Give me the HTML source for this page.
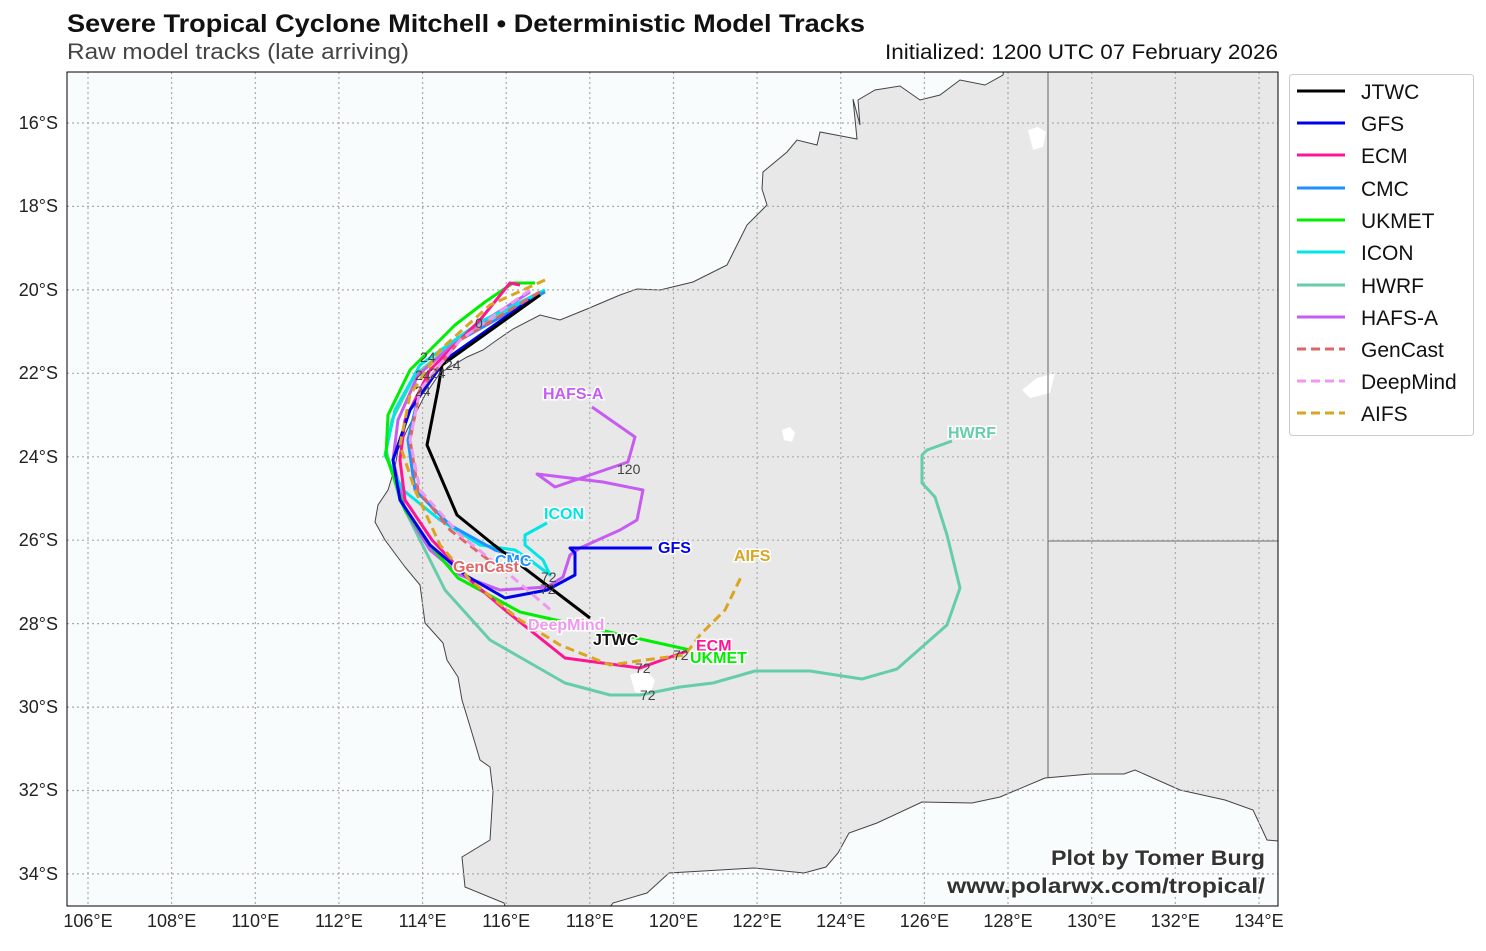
<!DOCTYPE html>
<html><head><meta charset="utf-8"><style>
body{margin:0;background:#fff;width:1486px;height:946px;overflow:hidden;font-family:"Liberation Sans",sans-serif}
</style></head><body>
<svg width="1486" height="946" xmlns="http://www.w3.org/2000/svg" font-family="Liberation Sans, sans-serif">
<text x="67" y="32" font-size="25" font-weight="bold" fill="#111" textLength="798" lengthAdjust="spacingAndGlyphs">Severe Tropical Cyclone Mitchell • Deterministic Model Tracks</text>
<text x="67" y="59" font-size="22" fill="#444" textLength="342" lengthAdjust="spacingAndGlyphs">Raw model tracks (late arriving)</text>
<text x="885" y="59" font-size="21" fill="#111" textLength="393" lengthAdjust="spacingAndGlyphs">Initialized: 1200 UTC 07 February 2026</text>
<defs><clipPath id="c"><rect x="67" y="72" width="1211" height="834"/></clipPath></defs>
<rect x="67" y="72" width="1211" height="834" fill="#f8fcfd"/>
<g clip-path="url(#c)">
<path d="M1005,60 L1003,75 L985,85 L960,80 L940,95 L920,100 L900,86 L875,90 L858,100 L860,125 L853,99 L857,139 L820,132 L817,145 L797,140 L787,152 L763,172 L762,189 L767,205 L747,225 L740,239 L727,265 L693,282 L660,290 L637,289 L620,295 L587,309 L560,320 L540,315 L513,329 L497,340 L483,350 L467,357 L440,373 L425,395 L407,430 L398,450 L395,467 L388,490 L378,505 L375,522 L385,540 L405,567 L420,585 L422,600 L425,623 L443,643 L447,660 L458,677 L462,700 L472,733 L480,760 L490,767 L493,792 L490,840 L462,857 L465,887 L504,903 L510,920 L600,920 L613,903 L647,893 L669,873 L754,868 L804,873 L826,867 L838,853 L849,833 L877,823 L922,802 L972,803 L1000,797 L1045,778 L1090,774 L1124,774 L1135,770 L1180,790 L1225,800 L1253,810 L1261,827 L1267,840 L1290,842 L1290,60 Z" fill="#e8e8e8" stroke="#444" stroke-width="1"/>
<path d="M1028,130 l10,-3 l8,5 l-3,15 l-10,3 z M1022,390 l15,-12 l18,-5 l-5,20 l-20,5 z M782,430 l8,-3 l5,6 l-3,9 l-8,-2 z M630,675 l15,-5 l10,10 l-5,15 l-15,-3 z" fill="#fff"/>
<path d="M1048,72 V778 M1048,541 H1278" stroke="#444" stroke-width="0.8" fill="none"/>
<g stroke="#aaa" stroke-width="1.2" stroke-dasharray="2,3" fill="none">
<path d="M88,72V906M171.6,72V906M255.3,72V906M338.9,72V906M422.6,72V906M506.2,72V906M589.8,72V906M673.5,72V906M757.1,72V906M840.8,72V906M924.4,72V906M1008,72V906M1091.7,72V906M1175.3,72V906M1259,72V906"/>
<path d="M67,123H1278M67,206.4H1278M67,289.9H1278M67,373.3H1278M67,456.8H1278M67,540.2H1278M67,623.6H1278M67,707.1H1278M67,790.5H1278M67,873.9H1278"/>
</g>
<g fill="none" stroke-width="3" stroke-linejoin="round">
<polyline stroke="#66cdaa" points="540,292 470,330 415,375 392,420 386,450 400,500 445,590 490,640 565,683 610,695 640,695 680,687 713,683 755,671 810,671 862,679 897,669 947,625 960,588 947,535 935,497 922,483 922,455 927,450 952,441"/>
<polyline stroke="#c65cf2" points="530,292 470,330 418,375 398,420 393,460 405,510 430,550 460,575 500,590 547,587 563,577 570,555 580,548 620,530 637,520 643,490 603,482 537,474 555,487 628,462 635,437 592,407"/>
<polyline stroke="#00e5e5" points="545,290 480,322 420,365 395,410 385,455 403,490 440,520 480,545 515,550 530,560 550,575 543,560 525,545 525,535 547,523"/>
<polyline stroke="#1e90ff" points="545,292 460,340 420,390 408,440 415,490 450,525 495,550 530,560"/>
<polyline stroke="#00ee00" points="535,283 513,283 485,302 455,325 410,370 388,415 386,455 405,510 430,545 458,578 520,612 600,630 690,650"/>
<polyline stroke="#ff1493" points="520,285 510,283 480,320 430,370 405,420 400,460 405,500 432,540 470,580 505,610 565,658 640,668 690,650"/>
<polyline stroke="#0000ee" points="530,300 445,360 410,410 393,460 400,500 430,545 465,575 505,598 547,590 575,575 575,553 570,548 652,548"/>
<polyline stroke="#000" points="540,295 442,365 438,389 427,445 457,515 494,545 590,618"/>
<polyline stroke="#e06666" stroke-dasharray="9,5" points="540,292 460,340 420,390 410,440 418,490 450,530 495,565"/>
<polyline stroke="#ee99ee" stroke-dasharray="9,5" points="530,290 460,340 420,390 410,440 420,490 460,535 510,575 553,612"/>
<polyline stroke="#daa520" stroke-dasharray="9,5" points="545,280 490,305 440,350 410,395 400,445 415,490 440,545 470,580 520,620 560,645 610,665 645,660 685,655 700,635 725,610 742,575"/>
</g>
<g font-size="14" fill="#444">
<text x="475" y="328">0</text><text x="420" y="362">24</text><text x="445" y="370">24</text><text x="415" y="380">24</text><text x="430" y="378">24</text><text x="415" y="396">24</text>
<text x="617" y="474">120</text><text x="541" y="582">72</text><text x="540" y="594">72</text><text x="635" y="673">72</text><text x="673" y="660">72</text><text x="640" y="700">72</text>
</g>
<g font-size="16" font-weight="bold" stroke="#fff" stroke-width="3" paint-order="stroke">
<text x="543" y="399" fill="#c65cf2">HAFS-A</text>
<text x="948" y="438" fill="#66cdaa">HWRF</text>
<text x="544" y="519" fill="#00e5e5">ICON</text>
<text x="658" y="553" fill="#0000ee">GFS</text>
<text x="734" y="561" fill="#daa520">AIFS</text>
<text x="495" y="566" fill="#1e90ff">CMC</text>
<text x="453" y="572" fill="#e06666">GenCast</text>
<text x="528" y="630" fill="#ee99ee">DeepMind</text>
<text x="593" y="645" fill="#111">JTWC</text>
<text x="696" y="651" fill="#ff1493">ECM</text>
<text x="690" y="663" fill="#00ee00">UKMET</text>
</g>
<g font-size="21" font-weight="bold" fill="#333" stroke="#fff" stroke-width="3" paint-order="stroke">
<text x="1051" y="865" textLength="214" lengthAdjust="spacingAndGlyphs">Plot by Tomer Burg</text>
<text x="947" y="893" textLength="318" lengthAdjust="spacingAndGlyphs">www.polarwx.com/tropical/</text>
</g>
</g>
<rect x="67" y="72" width="1211" height="834" fill="none" stroke="#000" stroke-width="1"/>
<g font-size="18" fill="#222" text-anchor="middle">
<text x="88" y="927">106°E</text><text x="171.6" y="927">108°E</text><text x="255.3" y="927">110°E</text><text x="338.9" y="927">112°E</text><text x="422.6" y="927">114°E</text><text x="506.2" y="927">116°E</text><text x="589.8" y="927">118°E</text><text x="673.5" y="927">120°E</text><text x="757.1" y="927">122°E</text><text x="840.8" y="927">124°E</text><text x="924.4" y="927">126°E</text><text x="1008" y="927">128°E</text><text x="1091.7" y="927">130°E</text><text x="1175.3" y="927">132°E</text><text x="1259" y="927">134°E</text>
</g>
<g font-size="18" fill="#222" text-anchor="end">
<text x="58" y="129">16°S</text><text x="58" y="212">18°S</text><text x="58" y="296">20°S</text><text x="58" y="379">22°S</text><text x="58" y="463">24°S</text><text x="58" y="546">26°S</text><text x="58" y="630">28°S</text><text x="58" y="713">30°S</text><text x="58" y="796">32°S</text><text x="58" y="880">34°S</text>
</g>
<rect x="1289.5" y="74.5" width="184" height="361" rx="3" fill="#fff" stroke="#ccc"/>
<g stroke-width="3">
<line x1="1297" y1="91" x2="1345" y2="91" stroke="#000"/>
<line x1="1297" y1="123" x2="1345" y2="123" stroke="#0000ee"/>
<line x1="1297" y1="155" x2="1345" y2="155" stroke="#ff1493"/>
<line x1="1297" y1="188" x2="1345" y2="188" stroke="#1e90ff"/>
<line x1="1297" y1="220" x2="1345" y2="220" stroke="#00ee00"/>
<line x1="1297" y1="252" x2="1345" y2="252" stroke="#00e5e5"/>
<line x1="1297" y1="285" x2="1345" y2="285" stroke="#66cdaa"/>
<line x1="1297" y1="317" x2="1345" y2="317" stroke="#c65cf2"/>
<line x1="1297" y1="349" x2="1345" y2="349" stroke="#e06666" stroke-dasharray="9,5"/>
<line x1="1297" y1="381" x2="1345" y2="381" stroke="#ee99ee" stroke-dasharray="9,5"/>
<line x1="1297" y1="413" x2="1345" y2="413" stroke="#daa520" stroke-dasharray="9,5"/>
</g>
<g font-size="21" fill="#111">
<text x="1361" y="99">JTWC</text><text x="1361" y="131">GFS</text><text x="1361" y="163">ECM</text><text x="1361" y="196">CMC</text><text x="1361" y="228">UKMET</text><text x="1361" y="260">ICON</text><text x="1361" y="293">HWRF</text><text x="1361" y="325">HAFS-A</text><text x="1361" y="357">GenCast</text><text x="1361" y="389">DeepMind</text><text x="1361" y="421">AIFS</text>
</g>
</svg>
</body></html>
